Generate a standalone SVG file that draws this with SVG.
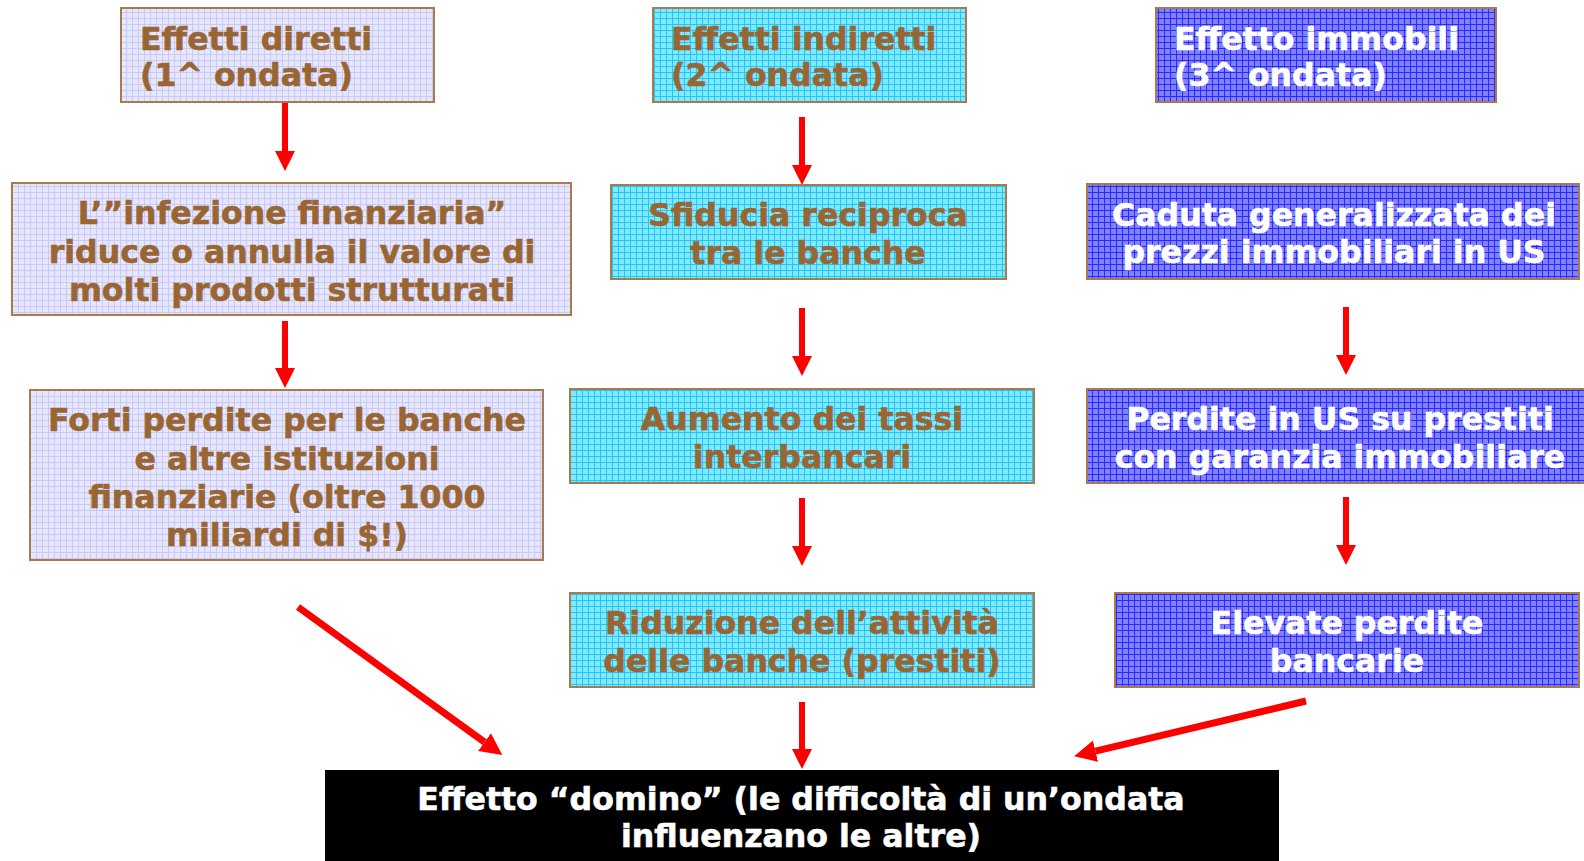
<svg xmlns="http://www.w3.org/2000/svg" width="1584" height="861" viewBox="0 0 1584 861">
<defs>
<pattern id="pLav" width="6" height="6" patternUnits="userSpaceOnUse">
<rect width="6" height="6" fill="#e6e6fd"/>
<path d="M0 0.5H6M0.5 0V6" stroke="#c9c9f5" stroke-width="1" fill="none"/>
</pattern>
<pattern id="pCyan" width="6" height="6" patternUnits="userSpaceOnUse">
<rect width="6" height="6" fill="#80e8ff"/>
<path d="M0 0.5H6M0.5 0V6" stroke="#22c6f2" stroke-width="1" fill="none"/>
</pattern>
<pattern id="pBlue" width="6" height="6" patternUnits="userSpaceOnUse">
<rect width="6" height="6" fill="#8282ff"/>
<path d="M0 0.5H6M0.5 0V6" stroke="#2a2aff" stroke-width="1" fill="none"/>
</pattern>
<marker id="ah" viewBox="0 0 20 20" markerWidth="20" markerHeight="20" refX="0" refY="10" orient="auto" markerUnits="userSpaceOnUse">
<path d="M0,0 L20,10 L0,20 z" fill="#ff0000"/>
</marker>
<marker id="ah2" viewBox="0 0 22 22" markerWidth="22" markerHeight="22" refX="0" refY="11" orient="auto" markerUnits="userSpaceOnUse">
<path d="M0,0 L22,11 L0,22 z" fill="#ff0000"/>
</marker>
</defs>
<style>
.box{stroke:#a87a4c;stroke-width:2}
.lav{fill:url(#pLav)}
.cyan{fill:url(#pCyan)}
.blue{fill:url(#pBlue)}
text{font-family:"DejaVu Sans","Verdana",sans-serif;font-weight:bold;font-size:31.6px;stroke-width:0.6px}
.br{fill:#996633;stroke:#996633}
.wh{fill:#ffffff;stroke:#ffffff}
.c{text-anchor:middle}
.arr{stroke:#ff0000;stroke-width:6;fill:none;marker-end:url(#ah)}
.arr2{stroke:#ff0000;stroke-width:7;fill:none;marker-end:url(#ah2)}
</style>
<rect width="1584" height="861" fill="#ffffff"/>

<g id="connectors">
<line class="arr" x1="285" y1="103" x2="285" y2="151"/>
<line class="arr" x1="285" y1="321" x2="285" y2="368"/>
<line class="arr" x1="802" y1="117" x2="802" y2="165"/>
<line class="arr" x1="802" y1="308" x2="802" y2="356"/>
<line class="arr" x1="802" y1="498" x2="802" y2="546"/>
<line class="arr" x1="802" y1="702" x2="802" y2="749"/>
<line class="arr" x1="1346" y1="307" x2="1346" y2="355"/>
<line class="arr" x1="1346" y1="497" x2="1346" y2="545"/>
<line class="arr2" x1="298" y1="607" x2="484.5" y2="742.2"/>
<line class="arr2" x1="1306" y1="701" x2="1095.5" y2="751.1"/>
</g>

<g id="n1">
<rect class="box lav" x="121" y="8" width="313" height="94"/>
<text class="br" x="140" y="50">Effetti diretti</text>
<text class="br" x="140" y="86">(1^ ondata)</text>
</g>
<g id="n2">
<rect class="box cyan" x="653" y="8" width="313" height="94"/>
<text class="br" x="671" y="50">Effetti indiretti</text>
<text class="br" x="671" y="86">(2^ ondata)</text>
</g>
<g id="n3">
<rect class="box blue" x="1156" y="8" width="340" height="94"/>
<text class="wh" x="1174" y="50">Effetto immobili</text>
<text class="wh" x="1174" y="86">(3^ ondata)</text>
</g>

<g id="n4">
<rect class="box lav" x="12" y="183" width="559" height="132"/>
<text class="br c" x="292" y="224">L’”infezione finanziaria”</text>
<text class="br c" x="292" y="263">riduce o annulla il valore di</text>
<text class="br c" x="292" y="301">molti prodotti strutturati</text>
</g>
<g id="n5">
<rect class="box lav" x="30" y="390" width="513" height="170"/>
<text class="br c" x="287" y="431">Forti perdite per le banche</text>
<text class="br c" x="287" y="470">e altre istituzioni</text>
<text class="br c" x="287" y="508">finanziarie (oltre 1000</text>
<text class="br c" x="287" y="546">miliardi di $!)</text>
</g>

<g id="n6">
<rect class="box cyan" x="611" y="185" width="395" height="94"/>
<text class="br c" x="808" y="226">Sfiducia reciproca</text>
<text class="br c" x="808" y="264">tra le banche</text>
</g>
<g id="n7">
<rect class="box cyan" x="570" y="389" width="464" height="94"/>
<text class="br c" x="802" y="430">Aumento dei tassi</text>
<text class="br c" x="802" y="468">interbancari</text>
</g>
<g id="n8">
<rect class="box cyan" x="570" y="593" width="464" height="94"/>
<text class="br c" x="802" y="634">Riduzione dell’attività</text>
<text class="br c" x="802" y="672">delle banche (prestiti)</text>
</g>

<g id="n9">
<rect class="box blue" x="1087" y="184" width="492" height="95"/>
<text class="wh c" x="1334" y="226">Caduta generalizzata dei</text>
<text class="wh c" x="1334" y="263">prezzi immobiliari in US</text>
</g>
<g id="n10">
<rect class="box blue" x="1087" y="389" width="510" height="94"/>
<text class="wh c" x="1340" y="430">Perdite in US su prestiti</text>
<text class="wh c" x="1340" y="468">con garanzia immobiliare</text>
</g>
<g id="n11">
<rect class="box blue" x="1115" y="593" width="464" height="94"/>
<text class="wh c" x="1347" y="634">Elevate perdite</text>
<text class="wh c" x="1347" y="672">bancarie</text>
</g>

<g id="n12">
<rect x="325" y="770" width="954" height="95" fill="#000000"/>
<text class="wh c" x="801" y="810">Effetto “domino” (le difficoltà di un’ondata</text>
<text class="wh c" x="801" y="847">influenzano le altre)</text>
</g>
</svg>
